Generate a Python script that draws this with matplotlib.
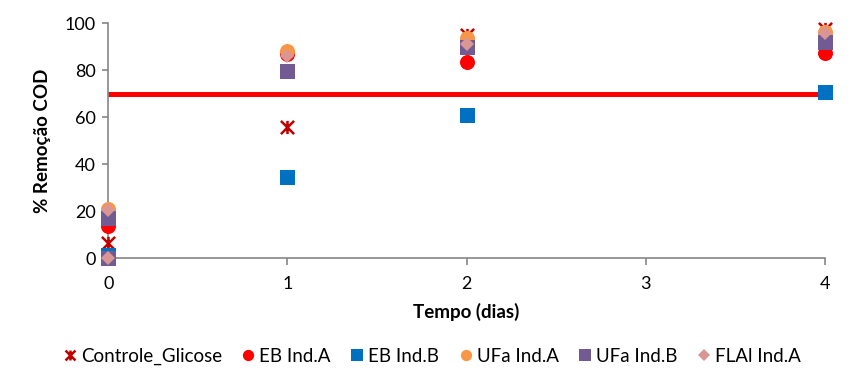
import matplotlib
matplotlib.use("Agg")
import matplotlib.pyplot as plt
from matplotlib.path import Path

plt.rcParams['font.family'] = ['Lato', 'DejaVu Sans']

ctrl_x = [0, 1, 2, 4]
ctrl_y = [6.5, 55.7, 95.0, 97.5]
eba_x = [0, 1, 2, 4]
eba_y = [13.5, 87.0, 83.4, 87.2]
ebb_x = [0, 1, 2, 4]
ebb_y = [1.5, 34.5, 60.8, 70.6]
ufa_x = [0, 1, 2, 4]
ufa_y = [21.0, 88.0, 93.6, 96.3]
ufb_x = [0, 0, 1, 2, 4]
ufb_y = [17.0, 0.0, 79.6, 90.0, 92.0]
fla_x = [0, 0, 1, 2, 4]
fla_y = [20.4, 0.0, 86.0, 91.0, 95.7]
limit_y = 70

star = Path([(-1, -1), (1, 1), (-1, 1), (1, -1), (0, -1), (0, 1)],
            [Path.MOVETO, Path.LINETO, Path.MOVETO, Path.LINETO, Path.MOVETO, Path.LINETO])

fig = plt.figure(figsize=(8.53, 3.84), dpi=100)
ax = fig.add_axes([0.127, 0.328, 0.840, 0.612])

ax.plot([0, 4], [limit_y, limit_y], color='#FF0000', lw=3.6, zorder=1)

ms = 10.8
kw = dict(ls='none', clip_on=False, zorder=3)
ax.plot(ctrl_x, ctrl_y, marker=star, color='#C00000', ms=9.5, mew=1.8, label='Controle_Glicose', **kw)
ax.plot(eba_x, eba_y, marker='o', color='#FF0000', ms=ms, mew=0, label='EB Ind.A', **kw)
ax.plot(ebb_x, ebb_y, marker='s', color='#0070C0', ms=ms, mew=0, label='EB Ind.B', **kw)
ax.plot(ufa_x, ufa_y, marker='o', color='#F79646', ms=ms, mew=0, label='UFa Ind.A', **kw)
ax.plot(ufb_x, ufb_y, marker='s', color='#725A93', ms=ms, mew=0, label='UFa Ind.B', **kw)
ax.plot(fla_x, fla_y, marker='D', color='#D99694', ms=7.5, mew=0, label='FLAl Ind.A', **kw)

ax.set_xlim(0, 4)
ax.set_ylim(0, 100)
ax.set_xticks([0, 1, 2, 3, 4])
ax.set_yticks([0, 20, 40, 60, 80, 100])
for s in ['top', 'right']:
    ax.spines[s].set_visible(False)
for s in ['left', 'bottom']:
    ax.spines[s].set_color('#868686')
    ax.spines[s].set_linewidth(1.2)
ax.tick_params(axis='both', colors='#868686', labelcolor='black', labelsize=13, width=1.2)
ax.tick_params(axis='x', length=5, pad=8)
ax.tick_params(axis='y', length=4, pad=5)
ax.set_xlabel('Tempo (dias)', fontsize=13.5, fontweight='bold', labelpad=8)
ax.set_ylabel('% Remoção COD', fontsize=13.5, fontweight='bold', labelpad=10)

fig.legend(loc='lower center', bbox_to_anchor=(0.505, 0.005), ncol=6, frameon=False,
           fontsize=13.5, handletextpad=0.1, columnspacing=0.9, handlelength=1.0,
           markerscale=0.75)

fig.savefig('out.png', dpi=100)
